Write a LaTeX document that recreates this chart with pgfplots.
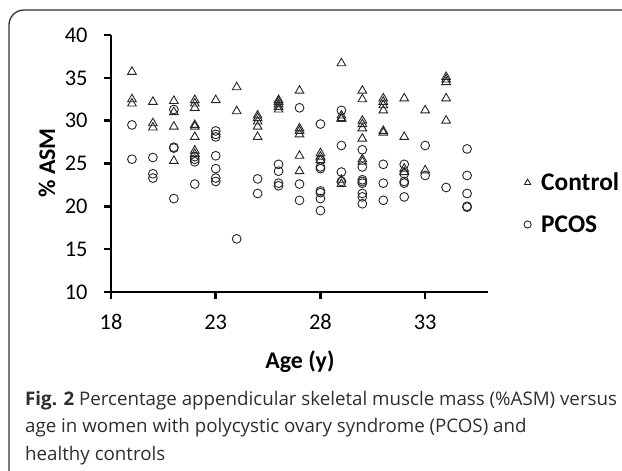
\documentclass[border=0pt]{standalone}
\usepackage{pgfplots}
\pgfplotsset{compat=1.18}
\usepackage{pgfplotstable}
\usepackage{fontspec}
\setmainfont{Carlito}
\newfontfamily\capfont{Open Sans}
\pgfplotstableread{
x y
19 35.7
19 32.5
19 32.0
20 32.2
20 29.7
20 29.2
21 32.3
21 31.0
21 29.3
21 25.3
22 32.4
22 32.0
22 31.5
22 29.5
22 29.3
22 28.1
22 26.5
22 26.1
23 32.4
24 33.9
24 31.1
25 30.6
25 30.3
25 29.9
25 29.3
25 28.1
26 32.4
26 32.2
26 31.9
26 31.6
26 31.3
27 33.5
27 29.1
27 28.8
27 28.4
27 25.9
27 24.1
28 26.2
28 25.8
28 25.4
29 36.7
29 30.6
29 30.3
29 30.2
29 23.1
29 22.6
30 33.5
30 32.5
30 30.0
30 29.6
30 29.1
30 27.9
30 25.5
30 25.2
31 32.6
31 32.2
31 31.8
31 31.2
31 28.8
31 28.6
32 32.6
32 28.1
32 24.4
32 24.0
33 31.2
33 24.2
34 35.1
34 34.8
34 34.5
34 32.6
34 30.0
}\control
\pgfplotstableread{
x y
19 29.5
19 25.5
20 25.7
20 23.8
20 23.3
21 31.3
21 26.9
21 26.8
21 20.9
22 25.8
22 25.5
22 25.2
22 22.6
23 28.8
23 28.4
23 28.1
23 25.9
23 24.4
23 23.3
23 22.9
24 16.2
25 23.2
25 21.5
26 24.9
26 24.1
26 22.7
26 22.4
27 31.5
27 22.6
27 20.7
28 29.6
28 25.4
28 24.6
28 24.4
28 21.8
28 21.6
28 20.9
28 19.5
29 31.2
29 27.1
29 24.0
29 22.9
30 26.6
30 24.6
30 23.1
30 22.9
30 22.7
30 21.5
30 21.1
30 20.3
31 24.9
31 22.7
31 20.7
32 24.9
32 23.8
32 22.9
32 22.7
32 21.1
33 27.1
33 23.6
34 22.2
35 26.7
35 23.6
35 21.5
35 20.0
35 19.9
}\pcos
\definecolor{capgray}{HTML}{2E2E2E}
\begin{document}
\begin{tikzpicture}[x=1bp,y=1bp]
\useasboundingbox (0,0) rectangle (622,471);
\draw[line width=1.3bp, black!80] (9,-5) -- (9,446) arc[start angle=180,end angle=90,radius=15] -- (630,461);
\begin{axis}[
  at={(111bp,179bp)}, anchor=south west,
  scale only axis, width=377bp, height=257bp,
  xmin=18, xmax=36, ymin=10, ymax=40,
  axis x line=bottom, axis y line=left,
  axis line style={-, line width=2.6bp, black},
  xtick={18,23,28,33}, ytick={10,15,20,25,30,35,40},
  minor tick num=0,
  tick align=outside,
  major tick length=7bp,
  major tick style={line width=2.6bp, black},
  /pgf/number format/assume math mode=true,
  tick label style={font=\fontsize{22.5}{25}\selectfont, text=black},
  yticklabel style={xshift=-13bp},
  xticklabel style={yshift=-12bp},
  xlabel={\textbf{Age (y)}},
  ylabel={\textbf{\% ASM}},
  xlabel style={font=\fontsize{24}{26}\selectfont, at={(axis description cs:0.501,-0.27)}, anchor=center},
  ylabel style={font=\fontsize{24}{26}\selectfont, at={(axis description cs:-0.17,0.502)}, anchor=center, rotate=0},
  legend style={at={(axis description cs:1.095,0.345)}, anchor=west, draw=none, fill=none,
    font=\fontsize{25.5}{28}\selectfont\bfseries, row sep=23bp, inner sep=0pt,
    nodes={inner xsep=10bp, inner ysep=0pt}},
  legend cell align=left,
  legend image code/.code={\draw[#1, mark size=3.6bp] plot coordinates {(3bp,0bp)};},
  clip=false,
]
\addplot[only marks, mark=triangle, mark size=5bp, mark options={line width=0.9bp, draw=black!85, fill=none}] table[x=x,y=y]{\control};
\addlegendentry{Control}
\addplot[only marks, mark=o, mark size=4.4bp, mark options={line width=0.9bp, draw=black!85}] table[x=x,y=y]{\pcos};
\addlegendentry{PCOS}
\end{axis}
\begin{scope}[every node/.style={anchor=base west, inner sep=0pt, text=capgray, font=\capfont\fontsize{18.8}{22}\selectfont}]
\node at (25,65) {\textbf{Fig. 2} Percentage appendicular skeletal muscle mass (\%ASM) versus};
\node at (25,38) {age in women with polycystic ovary syndrome (PCOS) and};
\node at (25,10) {healthy controls};
\end{scope}
\end{tikzpicture}
\end{document}
